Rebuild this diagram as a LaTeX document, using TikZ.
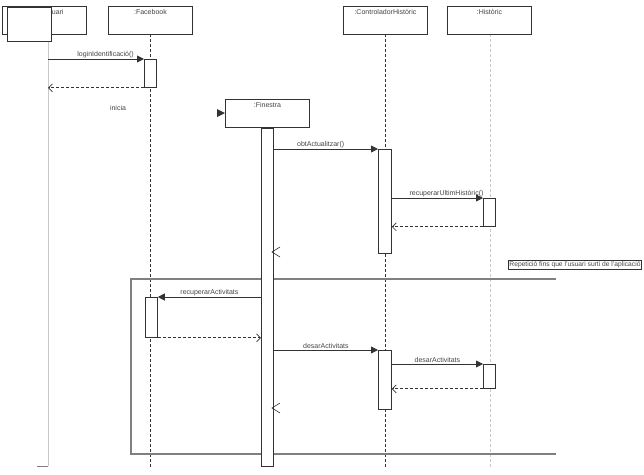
\documentclass[tikz,border=0pt]{standalone}
\usepackage{fontspec}
\setmainfont{Liberation Sans}
\usetikzlibrary{arrows.meta}
\definecolor{boxline}{HTML}{333333}
\definecolor{txt}{HTML}{444444}
\definecolor{frameline}{HTML}{808080}
\definecolor{lightline}{HTML}{C8C8C8}
\tikzset{
  lifebox/.style={draw=boxline, line width=0.9pt, fill=white, minimum width=84pt, minimum height=28pt, anchor=north west, inner sep=0pt},
  boxtext/.style={anchor=north, yshift=-3pt, font=\fontsize{7}{8}\selectfont, text=txt, inner sep=0pt},
  actbar/.style={draw=boxline, line width=0.8pt, fill=white, minimum width=12pt, anchor=north west, inner sep=0pt},
  lbl/.style={font=\fontsize{7}{8}\selectfont, text=txt, inner sep=1pt},
  lifedash/.style={draw=boxline, line width=0.8pt, dash pattern=on 3pt off 2pt},
  lifelight/.style={draw=lightline, line width=0.8pt, dash pattern=on 3pt off 2pt},
  msgcall/.style={draw=boxline, line width=0.8pt, -{Triangle[length=7pt,width=7pt]}},
  msgret/.style={draw=boxline, line width=0.7pt, dash pattern=on 3pt off 2pt, -{Straight Barb[length=4pt,width=8pt]}},
}
\begin{document}
\begin{tikzpicture}[x=1pt,y=-1pt]
\useasboundingbox (0,0) rectangle (644,474);
% lifelines first (drawn under boxes)
\coordinate (usrtop) at (48,41);
\coordinate (usrbot) at (48,466);
\coordinate (usrfoot) at (37,466);
\draw[lightline, line width=1pt] (usrtop) -- (usrbot);
\draw[draw=frameline, line width=1pt] (usrbot) -- (usrfoot);

\coordinate (fbtop) at (150,34);
\coordinate (fbbot) at (150,468);
\draw[lifedash] (fbtop) -- (fbbot);
\coordinate (cttop) at (385,34);
\coordinate (ctbot) at (385,468);
\draw[lifedash] (cttop) -- (ctbot);
\coordinate (hitop) at (490,34);
\coordinate (hibot) at (490,468);
\draw[lifelight] (hitop) -- (hibot);

% frame
\coordinate (frTR) at (556,279);
\coordinate (frTL) at (131,279);
\coordinate (frBL) at (131,454);
\coordinate (frBR) at (556,454);
\draw[frameline, line width=1.1pt] (frTR) -- (frTL) -- (frBL) -- (frBR);
\node[draw=boxline, line width=0.4pt, font=\fontsize{6.7}{8}\selectfont, text=txt, inner xsep=1pt, inner ysep=1pt, minimum height=9pt] (frlbl) at (575,265) {Repetició fins que l'usuari surti de l'aplicació};

% boxes
\node[lifebox] (usrback) at (2,6) {};
\node[boxtext, xshift=8pt] at (usrback.north) {:Usuari};
\node[lifebox, minimum width=44pt, minimum height=34pt, line width=1pt] (usr) at (7,7) {};
\node[lifebox] (fb) at (108,6) {};
\node[boxtext] at (fb.north) {:Facebook};
\node[lifebox] (ct) at (343,6) {};
\node[boxtext] at (ct.north) {:ControladorHistòric};
\node[lifebox] (hi) at (447,6) {};
\node[boxtext] at (hi.north) {:Històric};
\node[lifebox] (fin) at (225,99) {};
\node[boxtext] at (fin.north) {:Finestra};

% activation bars
\node[actbar, minimum height=338pt] (finA) at (261,128) {};
\node[actbar, minimum height=28pt] (fbA1) at (144,59) {};
\node[actbar, minimum height=104pt, minimum width=13pt] (ctA1) at (378,149) {};
\node[actbar, minimum height=28pt] (hiA1) at (483,198) {};
\node[actbar, minimum height=40pt] (fbA2) at (145,297) {};
\node[actbar, minimum height=59pt, minimum width=13pt] (ctA2) at (378,350) {};
\node[actbar, minimum height=24pt] (hiA2) at (483,364) {};

% messages
\draw[msgcall] (usrtop |- fbA1.north west) -- node[lbl, above, pos=0.6] (m1) {loginIdentificació()} (fbA1.north west);
\draw[msgret] (fbA1.south west) -- (usrtop |- fbA1.south west);

\node[lbl] (m2) at (118,108) {inicia};
\fill[boxline] (217,109) -- (225,113) -- (217,117) -- cycle;

\draw[msgcall] (finA.east |- ctA1.north west) -- node[lbl, above, pos=0.45] (m3) {obtActualitzar()} (ctA1.north west);
\draw[msgcall] (ctA1.east |- hiA1.north west) -- node[lbl, above, pos=0.6] (m4) {recuperarUltimHistòric()} (hiA1.north west);
\draw[msgret] (hiA1.south west) -- (ctA1.east |- hiA1.south west);
\draw[boxline, line width=0.6pt] (280,247) -- (272,252) -- (280,257);

\draw[msgcall] (finA.west |- fbA2.north east) -- node[lbl, above, pos=0.5] (m5) {recuperarActivitats} (fbA2.north east);
\draw[msgret] (fbA2.south east) -- (finA.west |- fbA2.south east);

\draw[msgcall] (finA.east |- ctA2.north west) -- node[lbl, above, pos=0.5] (m6) {desarActivitats} (ctA2.north west);
\draw[msgcall] (ctA2.east |- hiA2.north west) -- node[lbl, above, pos=0.5] (m7) {desarActivitats} (hiA2.north west);
\draw[msgret] (hiA2.south west) -- (ctA2.east |- hiA2.south west);
\draw[boxline, line width=0.6pt] (280,403) -- (272,408) -- (280,413);
\end{tikzpicture}
\end{document}
